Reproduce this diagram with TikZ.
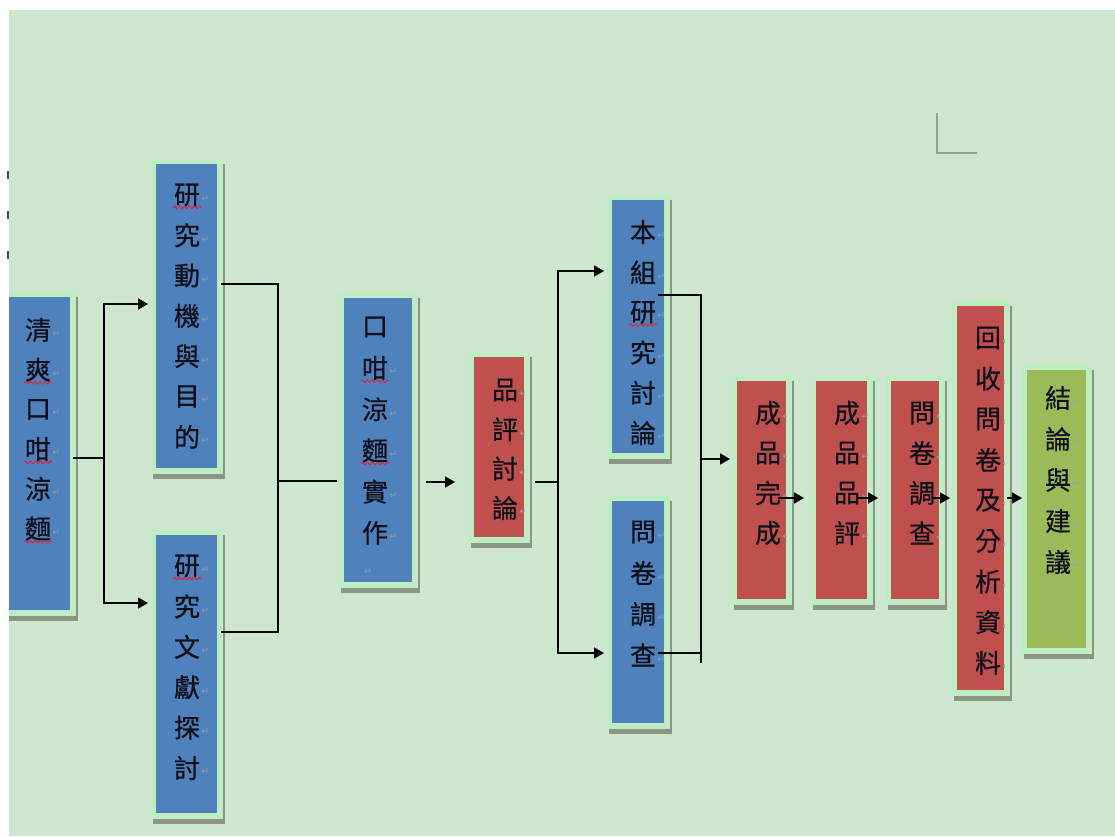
\documentclass[tikz,border=0pt]{standalone}
\usepackage{fontspec}
\usetikzlibrary{arrows.meta,calc,decorations.pathmorphing}
\newfontfamily\cjk[FakeBold=0.6]{Noto Sans CJK TC}
\newfontfamily\djv{DejaVu Sans}
\definecolor{bgc}{RGB}{205,231,207}
\definecolor{glowc}{RGB}{190,237,196}
\definecolor{shadc}{RGB}{140,148,134}
\definecolor{cblue}{RGB}{79,129,189}
\definecolor{cred}{RGB}{192,80,77}
\definecolor{cgreen}{RGB}{155,187,89}
\definecolor{markc}{RGB}{150,160,175}
\definecolor{wavec}{RGB}{215,40,60}
\definecolor{cornerc}{RGB}{140,165,142}
\definecolor{txtc}{RGB}{16,16,26}
\newcommand\mk{\rlap{\kern1.5pt\raisebox{3pt}{\djv\fontsize{9}{9}\selectfont\color{markc}↵}}}
\newcommand\colchars[5]{\foreach \c [count=\i] in {#5}{\node[ch] (#1-\i) at (#2,{#3+(\i-1)*#4}) {\c\mk};}}
\newcommand\boxtext[5]{\begin{scope}\clip (#1.north west) rectangle (#1.south east);\colchars{#1}{#2}{#3}{#4}{#5}\end{scope}}
\begin{document}
\begin{tikzpicture}[x=1pt,y=-1pt,
  box/.style={rectangle, inner sep=0pt, outer sep=0pt, draw=none,
    preaction={fill=shadc, draw=shadc, line width=11pt, transform canvas={shift={(2pt,-5pt)}}},
    preaction={draw=glowc, line width=11pt}},
  ch/.style={inner sep=0pt, text=txtc, font=\cjk\fontsize{26}{26}\selectfont},
  conn/.style={line width=1.4pt, black},
  arr/.style={-{Triangle[length=10pt,width=11pt]}},
  wave/.style={draw=wavec, line width=1pt, decorate, decoration={snake, amplitude=1.3pt, segment length=5pt}}]
\useasboundingbox (0,0) rectangle (1115,836);
\fill[white] (0,0) rectangle (1115,836);
\draw[gray!60!black, line width=1.5pt] (8,171) -- (8,179) (8,211) -- (8,219) (8,251) -- (8,259);
\begin{scope}
\clip (9,10) rectangle (1115,836);
\fill[bgc] (9,10) rectangle (1115,836);
\draw[cornerc, line width=1.5pt] (937,113) -- (937,153) -- (977,153);
% boxes
\node[box, fill=cblue, minimum width=80pt, minimum height=313pt] (b1) at (30,453.5) {};
\node[box, fill=cblue, minimum width=61pt, minimum height=304pt] (b2) at (186.5,316) {};
\node[box, fill=cblue, minimum width=61pt, minimum height=278pt] (b3) at (186.5,674) {};
\node[box, fill=cblue, minimum width=68pt, minimum height=284pt] (b4) at (378,440) {};
\node[box, fill=cred, minimum width=50pt, minimum height=180pt] (b5) at (499,447) {};
\node[box, fill=cblue, minimum width=52pt, minimum height=253pt] (b6) at (638,326.5) {};
\node[box, fill=cblue, minimum width=52pt, minimum height=222pt] (b7) at (638,612) {};
\node[box, fill=cred, minimum width=49pt, minimum height=218pt] (b8) at (761.5,490) {};
\node[box, fill=cred, minimum width=51pt, minimum height=218pt] (b9) at (841.5,490) {};
\node[box, fill=cred, minimum width=48pt, minimum height=218pt] (b10) at (915,490) {};
\node[box, fill=cred, minimum width=47pt, minimum height=384pt] (b11) at (980.5,498) {};
\node[box, fill=cgreen, minimum width=59pt, minimum height=278pt] (b12) at (1056.5,509) {};
% texts
\boxtext{b1}{38}{330}{39.7}{清,爽,口,咁,涼,麵}
\boxtext{b2}{187}{195}{40.3}{研,究,動,機,與,目,的}
\boxtext{b3}{187}{566}{40.4}{研,究,文,獻,探,討}
\node[ch] (b4-1) at (375,327) {口};
\foreach \c [count=\i from 2] in {咁,涼,麵,實,作}{\node[ch] (b4-\i) at (375,{368+(\i-2)*41.2}) {\c\mk};}
\node[inner sep=0pt, font=\djv\fontsize{9}{9}\selectfont, text=markc] (b4-m) at (368,572) {↵};
\boxtext{b5}{505}{390}{39.3}{品,評,討,論}
\boxtext{b6}{643}{232}{40.2}{本,組,研,究,討,論}
\boxtext{b7}{643}{532}{41}{問,卷,調,查}
\boxtext{b8}{768}{413}{40}{成,品,完,成}
\boxtext{b9}{847}{413}{40}{成,品,品,評}
\boxtext{b10}{922}{413}{40}{問,卷,調,查}
\boxtext{b11}{988}{338}{40.6}{回,收,問,卷,及,分,析,資,料}
\boxtext{b12}{1058}{398}{41}{結,論,與,建,議}
% wavy underlines
\foreach \n in {b1-2,b1-4,b1-6,b2-1,b3-1,b4-2,b4-4,b6-3}{
  \draw[wave] ([xshift=-1pt,yshift=-1pt]\n.south west) -- ([xshift=1pt,yshift=-1pt]\n.south east);}
% connectors
\coordinate (j1) at (104,458);
\draw[conn] ($(b1.east)+(3,4.5)$) -- (j1);
\draw[conn,arr] (j1) |- ($(b2.north west)+(-8,140)$);
\draw[conn,arr] (j1) |- ($(b3.north west)+(-8,68)$);
\coordinate (j2) at (278,481);
\draw[conn] ($(b2.north east)+(4,120)$) -| (j2);
\draw[conn] ($(b3.north east)+(4,97)$) -| (j2);
\draw[conn] (j2) -- ($(b4.west |- j2)+(-7,0)$);
\draw[conn,arr] ($(b4.east)+(14,42)$) -- ($(b5.west)+(-19,35)$);
\coordinate (j3) at (558,482);
\draw[conn] ($(b5.east)+(11,35)$) -- (j3);
\draw[conn,arr] (j3) |- ($(b6.north west)+(-8,71)$);
\draw[conn,arr] (j3) |- ($(b7.north west)+(-8,152)$);
\coordinate (j4) at (701,459);
\coordinate (j4b) at (701,663);
\coordinate (b7o) at ($(b7.north east)+(-6,152)$);
\draw[conn] ($(b6.north east)+(-6,95)$) -| (j4b);
\draw[conn] (b7o) -- (b7o -| j4);
\draw[conn,arr] (j4) -- ($(b8.north west)+(-7,78)$);
\draw[conn,arr] ($(b8.north east)+(-8,117)$) -- ($(b9.north west)+(-12,117)$);
\draw[conn,arr] ($(b9.north east)+(-10,117)$) -- ($(b10.north west)+(-13,117)$);
\draw[conn,arr] ($(b10.north east)+(-6,117)$) -- ($(b11.north west)+(-7,192)$);
\draw[conn,arr] ($(b11.north east)+(3,192)$) -- ($(b12.north west)+(-5,128)$);
\end{scope}
\end{tikzpicture}
\end{document}
